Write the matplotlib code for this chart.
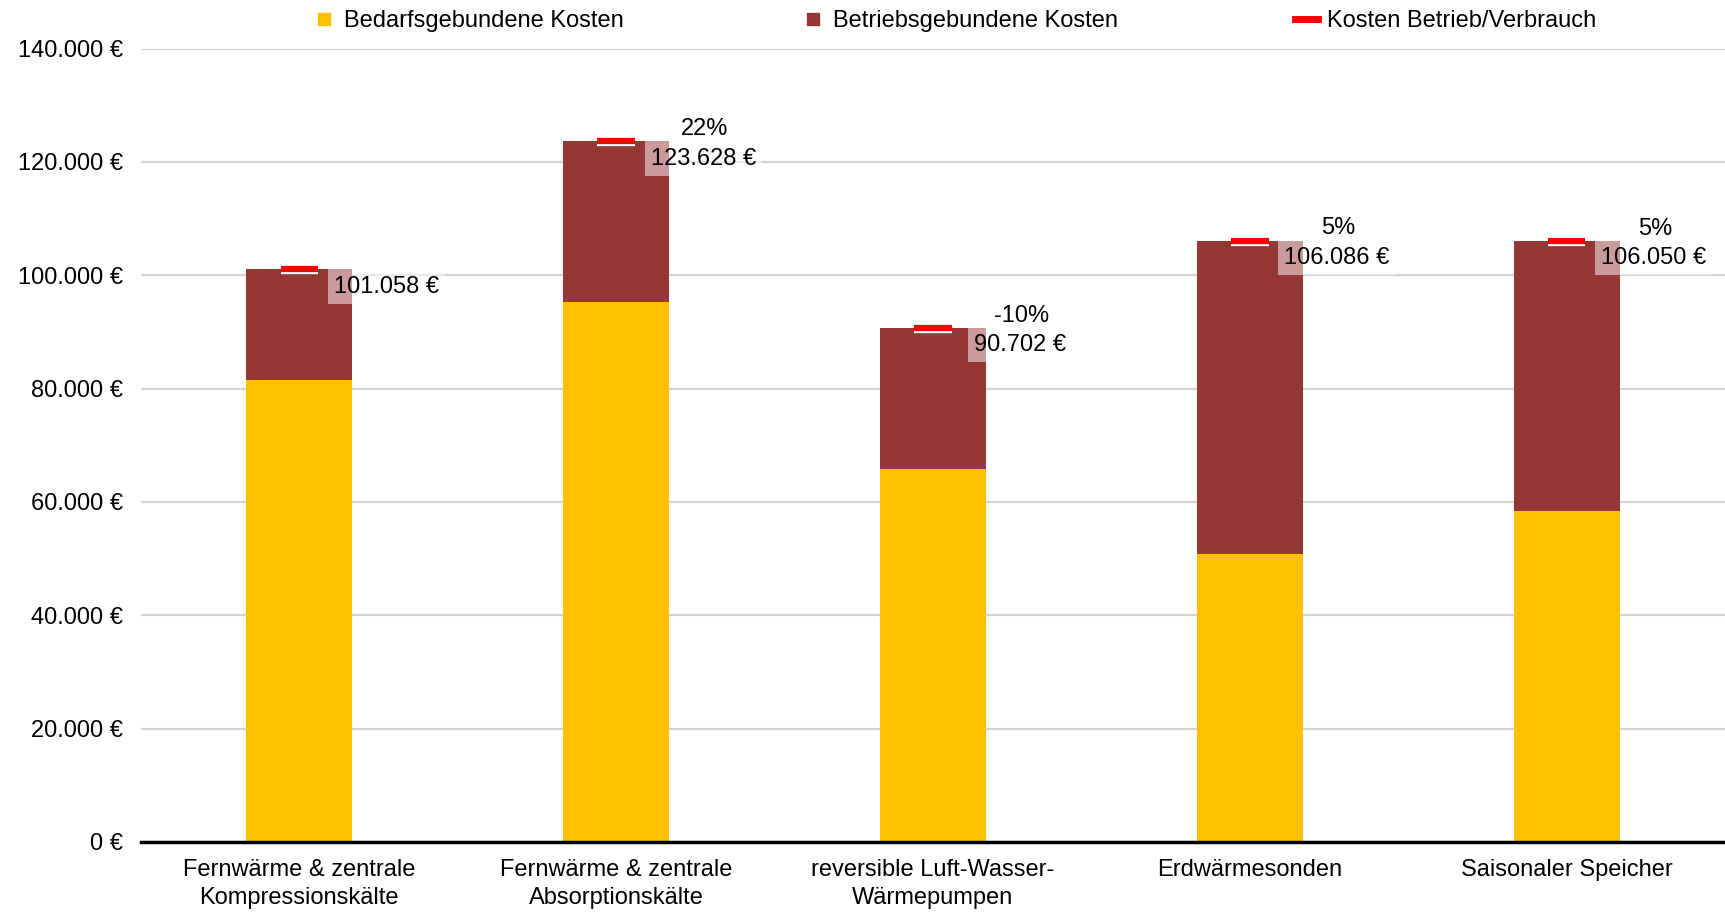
import matplotlib.pyplot as plt
import matplotlib.patheffects as pe
from matplotlib.lines import Line2D

plt.rcParams['font.family'] = ['Liberation Sans', 'DejaVu Sans']

# data
categories = ["Fernwärme & zentrale\nKompressionskälte",
              "Fernwärme & zentrale\nAbsorptionskälte",
              "reversible Luft-Wasser-\nWärmepumpen",
              "Erdwärmesonden",
              "Saisonaler Speicher"]
bedarf = [81500, 95300, 65850, 50750, 58450]
kosten_gesamt = [101058, 123628, 90702, 106086, 106050]
betrieb = [t - b for t, b in zip(kosten_gesamt, bedarf)]
total_labels = ["101.058 €", "123.628 €", "90.702 €", "106.086 €", "106.050 €"]
pct_labels = ["", "22%", "-10%", "5%", "5%"]
yticks = [0, 20000, 40000, 60000, 80000, 100000, 120000, 140000]
ytick_labels = ["0 €", "20.000 €", "40.000 €", "60.000 €", "80.000 €",
                "100.000 €", "120.000 €", "140.000 €"]

yellow = '#FFC000'
brown = '#953735'
red = '#FF0000'
fs = 17

fig = plt.figure(figsize=(17.25, 9.13), dpi=100)
ax = fig.add_axes([0.0817, 0.0778, 0.9183, 0.869])

x = list(range(len(categories)))
w = 0.335
ax.bar(x, bedarf, width=w, color=yellow, zorder=2)
ax.bar(x, betrieb, width=w, bottom=bedarf, color=brown, zorder=2)

# red marker for Kosten Betrieb/Verbrauch
ax.plot(x, kosten_gesamt, linestyle='none', marker='_', markersize=27,
        markeredgewidth=4.5, color=red, zorder=4,
        path_effects=[pe.Stroke(linewidth=7.5, foreground='white'), pe.Normal()])

for i in x:
    ax.annotate(total_labels[i], (i + 0.275, kosten_gesamt[i]), xytext=(0, -4.5),
                textcoords='offset points', ha='center', va='top', fontsize=fs,
                zorder=5,
                bbox=dict(boxstyle='square,pad=0.26', fc='white', ec='none', alpha=0.5))
    if pct_labels[i]:
        ax.annotate(pct_labels[i], (i + 0.28, kosten_gesamt[i]), xytext=(0, 1),
                    textcoords='offset points', ha='center', va='bottom',
                    fontsize=fs, zorder=5)

ax.set_xlim(-0.5, 4.5)
ax.set_ylim(0, 140000)
ax.set_yticks(yticks)
ax.set_yticklabels(ytick_labels, fontsize=fs)
ax.set_xticks(x)
ax.set_xticklabels(categories, fontsize=fs, linespacing=1.35)
ax.tick_params(axis='y', length=0, pad=13)
ax.tick_params(axis='x', length=0, pad=12)
ax.grid(axis='y', color='#d4d4d4', linewidth=1.6, zorder=0)
ax.set_axisbelow(True)
for s in ['top', 'right', 'left']:
    ax.spines[s].set_visible(False)
ax.spines['bottom'].set_linewidth(2.5)
ax.spines['bottom'].set_color('black')
ax.spines['bottom'].set_zorder(3)

handles = [Line2D([0], [0], linestyle='none', marker='s', markersize=9,
                  color=yellow, label='Bedarfsgebundene Kosten'),
           Line2D([0], [0], linestyle='none', marker='s', markersize=9,
                  color=brown, label='Betriebsgebundene Kosten'),
           Line2D([0], [0], color=red, linewidth=5, label='Kosten Betrieb/Verbrauch')]
fig.legend(handles=handles, loc='center', bbox_to_anchor=(0.553, 0.977), ncol=3,
           frameon=False, fontsize=fs, handlelength=1.0, handletextpad=0.35,
           columnspacing=7.5, borderaxespad=0, borderpad=0)

fig.savefig('out.png', dpi=100)
